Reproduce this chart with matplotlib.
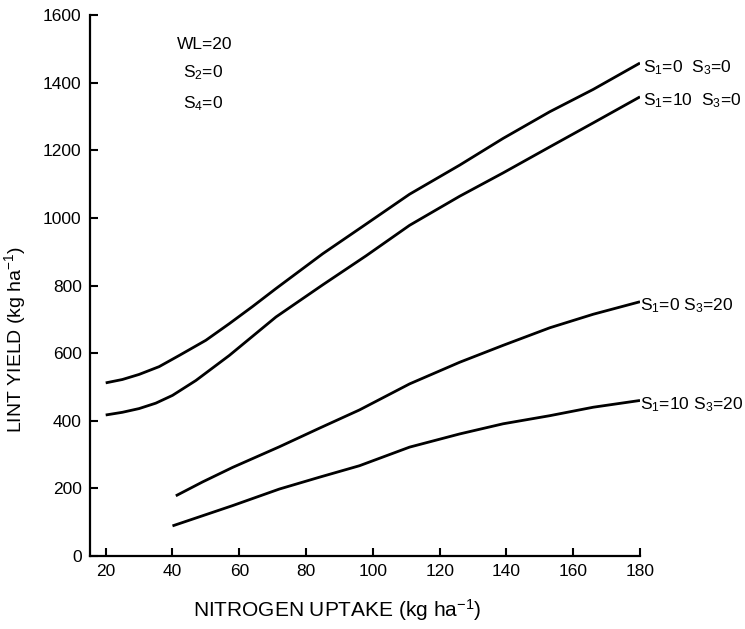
import matplotlib
matplotlib.use("Agg")
import matplotlib.pyplot as plt

plt.rcParams['font.family'] = ['Liberation Sans', 'DejaVu Sans']
plt.rcParams['mathtext.fontset'] = 'custom'
plt.rcParams['mathtext.rm'] = 'Liberation Sans'
plt.rcParams['mathtext.it'] = 'Liberation Sans'
plt.rcParams['mathtext.default'] = 'regular'

# Data
x1 = [20, 25, 30, 36, 42, 50, 57, 64, 71, 85, 97, 111, 126, 139, 153, 166, 180]
y1 = [512, 522, 537, 560, 593, 638, 687, 738, 791, 894, 975, 1070, 1156, 1235, 1314, 1380, 1458]

x2 = [20, 25, 30, 35, 40, 47, 57, 64, 71, 85, 98, 111, 126, 139, 153, 166, 180]
y2 = [417, 425, 436, 452, 475, 519, 593, 650, 707, 802, 888, 978, 1064, 1133, 1210, 1281, 1358]

x3 = [41, 49, 58, 72, 84, 96, 111, 126, 139, 153, 166, 180]
y3 = [178, 219, 262, 323, 378, 432, 509, 573, 623, 675, 715, 752]

x4 = [40, 49, 58, 72, 84, 96, 111, 126, 139, 153, 166, 180]
y4 = [89, 119, 149, 198, 233, 267, 322, 361, 391, 415, 440, 460]

labels = [r'S$_1$=0  S$_3$=0', r'S$_1$=10  S$_3$=0',
          r'S$_1$=0 S$_3$=20', r'S$_1$=10 S$_3$=20']
label_dx = [2, 2, 0, 0]

xticks = [20, 40, 60, 80, 100, 120, 140, 160, 180]
yticks = [0, 200, 400, 600, 800, 1000, 1200, 1400, 1600]

fig = plt.figure(figsize=(7.45, 6.29), dpi=100)
ax = fig.add_axes([90/745, 1-556/629, 550/745, 541/629])

series = [(x1, y1), (x2, y2), (x3, y3), (x4, y4)]
for (xs, ys), lab, dx in zip(series, labels, label_dx):
    ax.plot(xs, ys, color='black', lw=2.0, solid_capstyle='butt', solid_joinstyle='round')
    ax.annotate(lab, xy=(xs[-1], ys[-1]), xytext=(dx, -3), textcoords='offset points',
                ha='left', va='center', fontsize=12.5, annotation_clip=False)

ax.set_xlim(15.3, 180)
ax.set_ylim(0, 1600)
ax.set_xticks(xticks)
ax.set_yticks(yticks)
ax.tick_params(direction='in', length=6, width=1.5, labelsize=12.5, pad=6)
ax.spines['top'].set_visible(False)
ax.spines['right'].set_visible(False)
for s in ['left', 'bottom']:
    ax.spines[s].set_linewidth(1.6)

ax.text(0.158, 0.946, 'WL=20', transform=ax.transAxes, fontsize=12.5, ha='left', va='center')
ax.text(0.169, 0.893, r'S$_2$=0', transform=ax.transAxes, fontsize=12.5, ha='left', va='center')
ax.text(0.169, 0.836, r'S$_4$=0', transform=ax.transAxes, fontsize=12.5, ha='left', va='center')

fig.text(337/745, 1-610/629, r'NITROGEN UPTAKE (kg ha$^{-1}$)', ha='center', va='center', fontsize=15)
fig.text(15/745, 1-339/629, r'LINT YIELD (kg ha$^{-1}$)', ha='center', va='center',
         rotation=90, fontsize=14)

fig.savefig('out.png', dpi=100)
